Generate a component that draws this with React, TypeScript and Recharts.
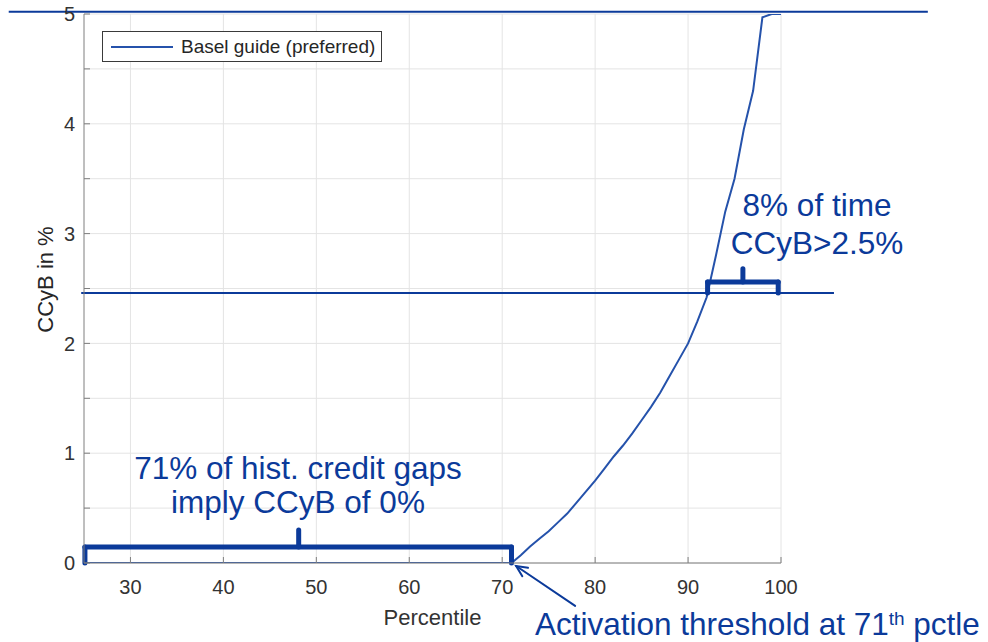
import React from "react";
import {
  LineChart,
  Line,
  XAxis,
  YAxis,
  CartesianGrid,
  ReferenceLine,
  Legend,
} from "recharts";

// curve: percentile of credit gap -> CCyB in %
const percentiles = [
  25, 71, 72, 73, 74, 75, 76, 77, 78, 79, 80, 81, 82, 83, 84, 85, 86, 87, 88,
  89, 90, 91, 92, 93, 94, 95, 96, 97, 98, 99, 100,
];
const ccybValues = [
  0, 0, 0.07, 0.15, 0.22, 0.29, 0.37, 0.45, 0.55, 0.65, 0.75, 0.86, 0.97,
  1.07, 1.18, 1.3, 1.42, 1.55, 1.7, 1.85, 2.0, 2.2, 2.42, 2.8, 3.2, 3.5, 3.95,
  4.3, 4.97, 5.0, 5.0,
];
const xTicks = [30, 40, 50, 60, 70, 80, 90, 100];
const yTicks = [0, 0.5, 1, 1.5, 2, 2.5, 3, 3.5, 4, 4.5, 5];

const seriesName = "Basel guide (preferred)";
const activation = 71;
const guideLevel = 2.46;

const data = percentiles.map((p, i) => ({ p, ccyb: ccybValues[i] }));

const ANNOT = "#0b3a9a";
const CURVE = "#2552ab";
const FONT = "'Liberation Sans', Arial, Helvetica, sans-serif";

// annotation segments in data coordinates
const guideLines = [
  [{ x: 16.9, y: 5.02 }, { x: 115.8, y: 5.02 }],
  [{ x: 24.7, y: guideLevel }, { x: 105.7, y: guideLevel }],
];
const braces = [
  // bottom brace: 25..71 at 0
  [{ x: 25.1, y: 0 }, { x: 25.1, y: 0.145 }],
  [{ x: 25.1, y: 0.145 }, { x: activation, y: 0.145 }],
  [{ x: activation, y: 0.145 }, { x: activation, y: 0 }],
  [{ x: 48.1, y: 0.145 }, { x: 48.1, y: 0.3 }],
  // top-right brace: 92..100 at guide level
  [{ x: 92.1, y: guideLevel }, { x: 92.1, y: 2.56 }],
  [{ x: 92.1, y: 2.56 }, { x: 99.7, y: 2.56 }],
  [{ x: 99.7, y: 2.56 }, { x: 99.7, y: guideLevel }],
  [{ x: 95.9, y: 2.56 }, { x: 95.9, y: 2.68 }],
];
const arrowSeg = [{ x: 77.85, y: -0.39 }, { x: 71.5, y: -0.027 }];

const ArrowShape = (props: any) => {
  const { x1, y1, x2, y2 } = props;
  const dx = x1 - x2;
  const dy = y1 - y2;
  const len = Math.hypot(dx, dy) || 1;
  const ux = dx / len;
  const uy = dy / len;
  const a = (25 * Math.PI) / 180;
  const h = 12;
  const l1 = {
    x: x2 + h * (ux * Math.cos(a) - uy * Math.sin(a)),
    y: y2 + h * (ux * Math.sin(a) + uy * Math.cos(a)),
  };
  const l2 = {
    x: x2 + h * (ux * Math.cos(a) + uy * Math.sin(a)),
    y: y2 + h * (-ux * Math.sin(a) + uy * Math.cos(a)),
  };
  return (
    <g stroke={ANNOT} strokeWidth={2} fill="none" strokeLinecap="round">
      <line x1={x1} y1={y1} x2={x2} y2={y2} />
      <polyline points={`${l1.x},${l1.y} ${x2},${y2} ${l2.x},${l2.y}`} />
    </g>
  );
};

const renderLegend = () => (
  <div
    style={{
      width: 278,
      height: 29,
      border: "1px solid #3a3a3a",
      background: "#fff",
      display: "flex",
      alignItems: "center",
      fontFamily: FONT,
      fontSize: 19,
      color: "#262626",
      whiteSpace: "nowrap",
    }}
  >
    <svg width={78} height={10} style={{ marginLeft: 0 }}>
      <line x1={8} y1={5} x2={70} y2={5} stroke={CURVE} strokeWidth={2} />
    </svg>
    <span>{seriesName}</span>
  </div>
);

const YLabel = (props: any) => {
  const { viewBox } = props;
  const cx = 45;
  const cy = viewBox.y + viewBox.height / 2 - 9;
  return (
    <text
      x={cx}
      y={cy}
      transform={`rotate(-90 ${cx} ${cy})`}
      textAnchor="middle"
      dominantBaseline="central"
      fontFamily={FONT}
      fontSize={22}
      fill="#262626"
    >
      CCyB in %
    </text>
  );
};

const annotText: React.CSSProperties = {
  position: "absolute",
  fontFamily: FONT,
  fontSize: 31.5,
  lineHeight: "31.5px",
  color: ANNOT,
  whiteSpace: "nowrap",
};

export default function App() {
  return (
    <div
      style={{
        position: "absolute",
        left: 0,
        top: 0,
        width: 988,
        height: 642,
        background: "#fff",
        overflow: "hidden",
      }}
    >
      <LineChart
        width={988}
        height={642}
        data={data}
        margin={{ top: 14, right: 207, bottom: 39, left: 0 }}
        style={{ overflow: "visible" }}
      >
        <CartesianGrid
          stroke="#e4e4e4"
          strokeWidth={1}
          horizontalValues={yTicks}
          verticalValues={xTicks}
        />
        <XAxis
          dataKey="p"
          type="number"
          domain={[25, 100]}
          allowDataOverflow
          ticks={xTicks}
          height={40}
          stroke="#7f7f7f"
          tickSize={-6}
          tickMargin={23}
          tick={{ fill: "#333", fontSize: 20, fontFamily: FONT }}
          label={{
            value: "Percentile",
            position: "insideBottom",
            offset: -22,
            fill: "#333",
            fontSize: 22,
            fontFamily: FONT,
          }}
        />
        <XAxis
          xAxisId="top"
          orientation="top"
          type="number"
          domain={[25, 100]}
          ticks={xTicks}
          height={0}
          stroke="#7f7f7f"
          tickSize={-6}
          tick={false}
        />
        <YAxis
          type="number"
          domain={[0, 5]}
          allowDataOverflow
          ticks={yTicks}
          width={84}
          stroke="#7f7f7f"
          tickSize={-6}
          tickMargin={15}
          interval={0}
          tickFormatter={(v: number) => (Number.isInteger(v) ? String(v) : "")}
          tick={{ fill: "#333", fontSize: 20, fontFamily: FONT }}
          label={<YLabel />}
        />
        <YAxis
          yAxisId="right"
          orientation="right"
          type="number"
          domain={[0, 5]}
          ticks={yTicks}
          interval={0}
          width={0}
          stroke="#7f7f7f"
          tickSize={-6}
          tick={false}
        />
        <Legend
          layout="vertical"
          align="center"
          verticalAlign="middle"
          content={renderLegend}
          wrapperStyle={{ left: 102, top: 31, width: 280, height: 31 }}
        />
        <Line
          type="linear"
          dataKey="ccyb"
          name={seriesName}
          stroke={CURVE}
          strokeWidth={2}
          dot={false}
          isAnimationActive={false}
        />
        {guideLines.map((seg, i) => (
          <ReferenceLine
            key={`g${i}`}
            segment={seg}
            stroke={ANNOT}
            strokeWidth={2}
            ifOverflow="visible"
          />
        ))}
        {braces.map((seg, i) => (
          <ReferenceLine
            key={`b${i}`}
            segment={seg}
            stroke={ANNOT}
            strokeWidth={5}
            strokeLinecap="round"
            ifOverflow="visible"
          />
        ))}
        <ReferenceLine
          segment={arrowSeg}
          ifOverflow="visible"
          shape={ArrowShape}
        />
      </LineChart>
      <div style={{ ...annotText, left: 298, top: 453, transform: "translateX(-50%)" }}>
        71% of hist. credit gaps
      </div>
      <div style={{ ...annotText, left: 298, top: 487, transform: "translateX(-50%)" }}>
        imply CCyB of 0%
      </div>
      <div style={{ ...annotText, left: 817, top: 190, transform: "translateX(-50%)" }}>
        8% of time
      </div>
      <div style={{ ...annotText, left: 817, top: 228, transform: "translateX(-50%)" }}>
        CCyB&gt;2.5%
      </div>
      <div style={{ ...annotText, left: 535, top: 609 }}>
        Activation threshold at 71
        <sup style={{ fontSize: 19, verticalAlign: "top", lineHeight: "19px" }}>th</sup>{" "}
        pctle
      </div>
    </div>
  );
}
